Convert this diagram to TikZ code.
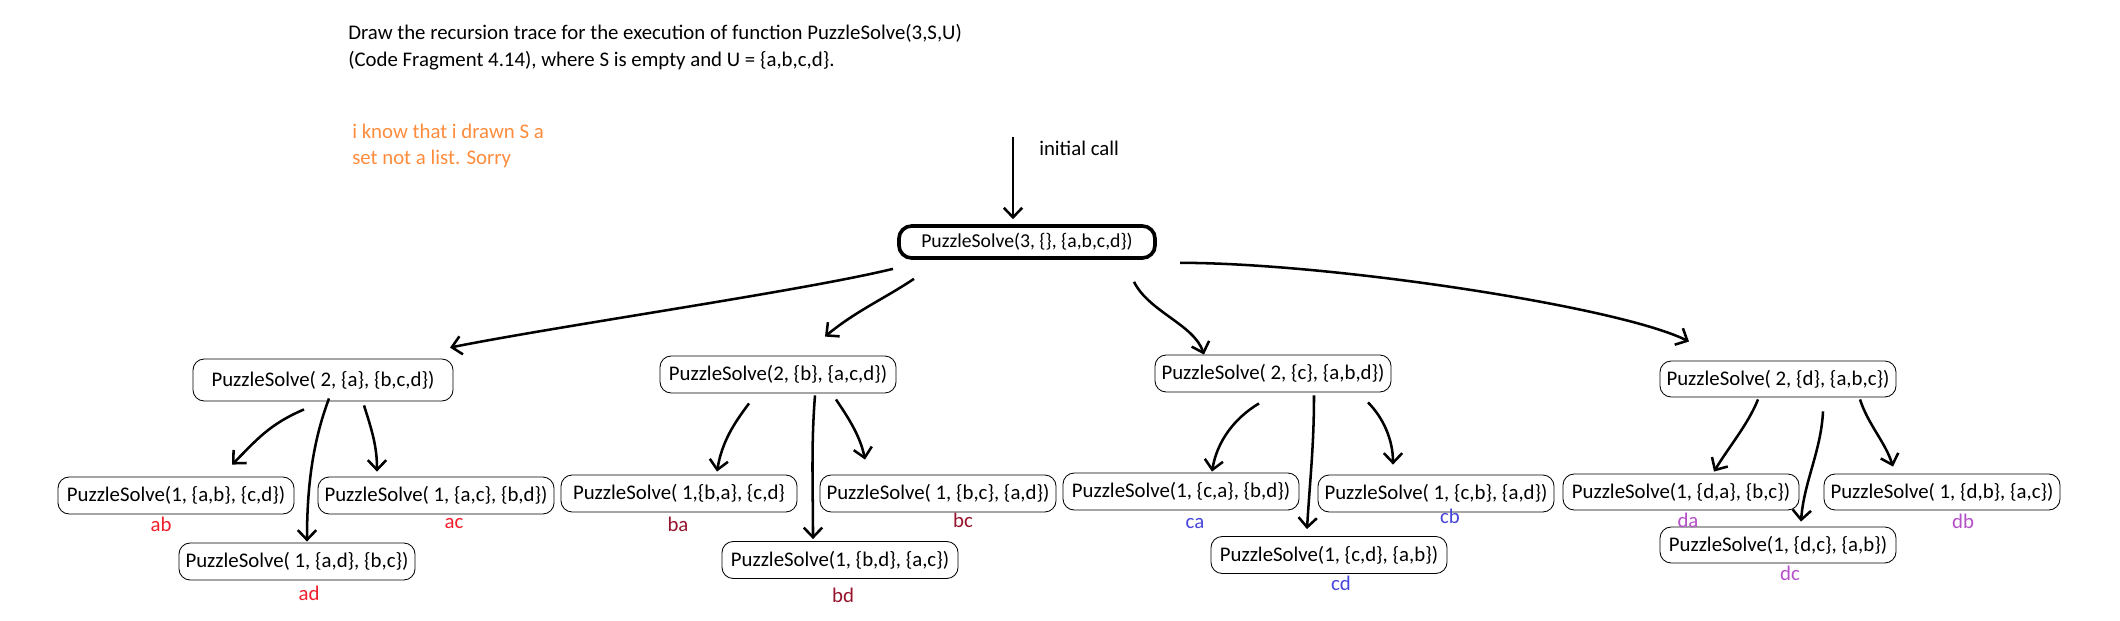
\documentclass[tikz,border=0pt]{standalone}
\usepackage{fontspec}
\setmainfont{Carlito}
\usepackage{xcolor}
\usepackage{tikz}
\usetikzlibrary{arrows.meta}
\definecolor{tagA}{RGB}{240,30,45}
\definecolor{tagB}{RGB}{150,20,45}
\definecolor{tagC}{RGB}{70,70,220}
\definecolor{tagD}{RGB}{180,80,200}
\definecolor{noteorange}{RGB}{255,140,60}
\tikzset{
    call/.style={draw, rounded corners=8pt, line width=0.6pt,
        minimum width=5.9cm, minimum height=0.925cm, inner sep=1pt,
        font=\fontsize{14.8}{17}\selectfont},
    root call/.style={call, line width=2.6pt, rounded corners=9pt,
        minimum width=6.4cm, minimum height=0.8cm, font=\fontsize{14}{17}\selectfont},
    flat call/.style={call, minimum height=0.9cm},
    rec/.style={line width=1.8pt, -{Straight Barb[length=2.4mm,width=4.6mm]}},
    tag/.style={inner sep=0pt, font=\fontsize{14.8}{17}\selectfont},
    note/.style={inner sep=0pt, anchor=west, align=left,
        font=\fontsize{14.8}{19}\selectfont}
}
\begin{document}
\begin{tikzpicture}[x=0.025cm, y=-0.025cm]
    \useasboundingbox (0,0) rectangle (2120,620);
    % question and remark
    \node[note] (task) at (348,47.5) {Draw the recursion trace for the execution of function PuzzleSolve(3,S,U)\\(Code Fragment 4.14), where S is empty and U = \{a,b,c,d\}.};
    \node[note, text=noteorange] (remark) at (352,146) {i know that i drawn S a\\set not a list. Sorry};
    % calls
    \node[root call] (root) at (1027,242) {PuzzleSolve(3, \{\}, \{a,b,c,d\})};
    \coordinate (start) at (1013,137);
    \node[tag, anchor=west] (initlbl) at (1039,148) {initial call};
    \node[call, minimum width=6.5cm, minimum height=1.05cm] (a2) at (323,380) {PuzzleSolve( 2, \{a\}, \{b,c,d\})};
    \node[call] (b2) at (778,374.5) {PuzzleSolve(2, \{b\}, \{a,c,d\})};
    \node[call] (c2) at (1273,373.5) {PuzzleSolve( 2, \{c\}, \{a,b,d\})};
    \node[flat call] (d2) at (1778,379) {PuzzleSolve( 2, \{d\}, \{a,b,c\})};
    % leaves
    \node[call] (ab) at (176,495.5) {PuzzleSolve(1, \{a,b\}, \{c,d\})};
    \node[call] (ac) at (436,495.5) {PuzzleSolve( 1, \{a,c\}, \{b,d\})};
    \node[call] (ad) at (297,561.5) {PuzzleSolve( 1, \{a,d\}, \{b,c\})};
    \node[call] (ba) at (679,493.5) {PuzzleSolve( 1,\{b,a\}, \{c,d\}};
    \node[call] (bc) at (938,493.5) {PuzzleSolve( 1, \{b,c\}, \{a,d\})};
    \node[call] (bd) at (840,560) {PuzzleSolve(1, \{b,d\}, \{a,c\})};
    \node[call] (ca) at (1181,491.5) {PuzzleSolve(1, \{c,a\}, \{b,d\})};
    \node[call] (cb) at (1436,493.5) {PuzzleSolve( 1, \{c,b\}, \{a,d\})};
    \node[call] (cd) at (1329,555) {PuzzleSolve(1, \{c,d\}, \{a,b\})};
    \node[flat call] (da) at (1681,492) {PuzzleSolve(1, \{d,a\}, \{b,c\})};
    \node[flat call] (db) at (1942,492) {PuzzleSolve( 1, \{d,b\}, \{a,c\})};
    \node[flat call] (dc) at (1778,545) {PuzzleSolve(1, \{d,c\}, \{a,b\})};
    % tags under the leaves
    \node[tag, text=tagA] (ab-tag) at (161,524) {ab};
    \node[tag, text=tagA] (ac-tag) at (454,524) {ac};
    \node[tag, text=tagA] (ad-tag) at (309,593) {ad};
    \node[tag, text=tagB] (ba-tag) at (678,524) {ba};
    \node[tag, text=tagB] (bc-tag) at (963,520) {bc};
    \node[tag, text=tagB] (bd-tag) at (843,595) {bd};
    \node[tag, text=tagC] (ca-tag) at (1195,524) {ca};
    \node[tag, text=tagC] (cb-tag) at (1450,516) {cb};
    \node[tag, text=tagC] (cd-tag) at (1341,583) {cd};
    \node[tag, text=tagD] (da-tag) at (1688,520) {da};
    \node[tag, text=tagD] (db-tag) at (1963,521) {db};
    \node[tag, text=tagD] (dc-tag) at (1790,573) {dc};
    % arrows
    \draw[rec] (start) -- ([shift={(-14,-5)}]root.north);
    \draw[rec] ([shift={(-134,9)}]root.south) .. controls +(-90,22) and +(110,-22) .. ([shift={(127,-11)}]a2.north);
    \draw[rec] ([shift={(-113,19)}]root.south) .. controls +(-30,20) and +(30,-25) .. ([shift={(47,-19)}]b2.north);
    \draw[rec] ([shift={(107,22)}]root.south) .. controls +(15,30) and +(-10,-30) .. ([shift={(-69,0)}]c2.north);
    \draw[rec] ([shift={(153,3)}]root.south) .. controls +(150,0) and +(-70,-35) .. ([shift={(-89,-19)}]d2.north);
    \draw[rec] ([shift={(-19,8)}]a2.south) .. controls +(-35,15) and +(25,-25) .. ([shift={(56,-12)}]ab.north);
    \draw[rec] ([shift={(6,-3)}]a2.south) .. controls +(-15,40) and +(0,-60) .. ([shift={(10,-1)}]ad.north);
    \draw[rec] ([shift={(41,4)}]a2.south) .. controls +(8,25) and +(0,-25) .. ([shift={(-59,-5)}]ac.north);
    \draw[rec] ([shift={(-29,10)}]b2.south) .. controls +(-15,20) and +(5,-30) .. ([shift={(38,-3)}]ba.north);
    \draw[rec] ([shift={(37,2)}]b2.south) .. controls +(-4,50) and +(0,-50) .. ([shift={(-27,-2)}]bd.north);
    \draw[rec] ([shift={(58,6)}]b2.south) .. controls +(10,15) and +(-5,-25) .. ([shift={(-73,-15)}]bc.north);
    \draw[rec] ([shift={(-14,11)}]c2.south) .. controls +(-25,15) and +(5,-30) .. ([shift={(31,-1)}]ca.north);
    \draw[rec] ([shift={(41,3)}]c2.south) .. controls +(0,50) and +(3,-50) .. ([shift={(-22,-7)}]cd.north);
    \draw[rec] ([shift={(95,10)}]c2.south) .. controls +(15,15) and +(0,-25) .. ([shift={(-43,-10)}]cb.north);
    \draw[rec] ([shift={(-20,2)}]d2.south) .. controls +(-10,25) and +(15,-25) .. ([shift={(33,-2)}]da.north);
    \draw[rec] ([shift={(45,14)}]d2.south) .. controls +(-2,40) and +(3,-40) .. ([shift={(23,-5)}]dc.north);
    \draw[rec] ([shift={(82,2)}]d2.south) .. controls +(8,25) and +(-8,-25) .. ([shift={(-49,-7)}]db.north);
\end{tikzpicture}
\end{document}
